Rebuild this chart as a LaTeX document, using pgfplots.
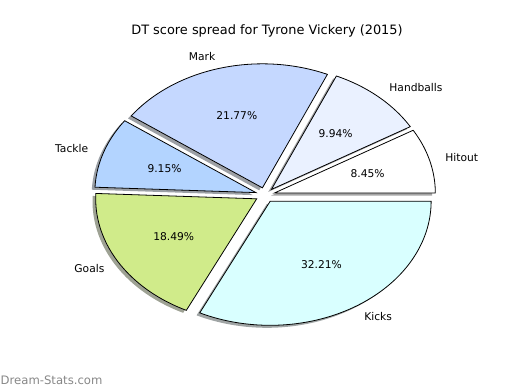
\documentclass[border=0pt]{standalone}
\usepackage{pgfplots}
\pgfplotsset{compat=1.18}
\usepackage{pgfplotstable}
\usepackage{fontspec}
\setmainfont{DejaVu Sans}

\definecolor{c0}{RGB}{255,255,255}
\definecolor{c1}{RGB}{234,241,255}
\definecolor{c2}{RGB}{197,216,255}
\definecolor{c3}{RGB}{179,212,255}
\definecolor{c4}{RGB}{208,235,138}
\definecolor{c5}{RGB}{217,255,255}
\definecolor{wmark}{RGB}{135,135,135}

\pgfplotstableread{
label pct
Hitout 8.45
Handballs 9.94
Mark 21.77
Tackle 9.15
Goals 18.49
Kicks 32.21
}\piedata

\newcommand\CX{265}
\newcommand\CY{195}
\newcommand\RX{161}
\newcommand\RY{124}
\newcommand\EXPL{0.06}
\newcommand\lbl{\fontsize{10.74}{12.9}\selectfont}
\newcommand\ttl{\fontsize{12.95}{15.5}\selectfont}
\newcommand\wmf{\fontsize{11.7}{14}\selectfont}

\xdef\cum{0}
\foreach \i in {0,...,5}{%
  \pgfplotstablegetelem{\i}{pct}\of\piedata
  \edef\pp{\pgfplotsretval}%
  \pgfmathsetmacro\s{\cum*3.6}%
  \pgfmathsetmacro\newcum{\cum+\pp}%
  \pgfmathsetmacro\e{\newcum*3.6}%
  \pgfmathsetmacro\m{(\s+\e)/2}%
  \pgfmathsetmacro\ox{\CX+\EXPL*\RX*cos(\m)}%
  \pgfmathsetmacro\oy{\CY+\EXPL*\RY*sin(\m)}%
  \pgfmathsetmacro\lx{\ox+1.1*\RX*cos(\m)}%
  \pgfmathsetmacro\ly{\oy+1.1*\RY*sin(\m)}%
  \pgfmathsetmacro\px{\ox+0.6*\RX*cos(\m)}%
  \pgfmathsetmacro\py{\oy+0.6*\RY*sin(\m)}%
  \pgfmathparse{cos(\m)>0}%
  \ifdim\pgfmathresult pt>0.5pt \def\anc{west}\else\def\anc{east}\fi
  \expandafter\xdef\csname ws\i\endcsname{\s}%
  \expandafter\xdef\csname we\i\endcsname{\e}%
  \expandafter\xdef\csname ox\i\endcsname{\ox}%
  \expandafter\xdef\csname oy\i\endcsname{\oy}%
  \expandafter\xdef\csname lx\i\endcsname{\lx}%
  \expandafter\xdef\csname ly\i\endcsname{\ly}%
  \expandafter\xdef\csname px\i\endcsname{\px}%
  \expandafter\xdef\csname py\i\endcsname{\py}%
  \expandafter\xdef\csname an\i\endcsname{\anc}%
  \expandafter\xdef\csname wp\i\endcsname{\pp}%
  \pgfplotstablegetelem{\i}{label}\of\piedata
  \expandafter\xdef\csname wl\i\endcsname{\pgfplotsretval}%
  \xdef\cum{\newcum}%
}

\newcommand\drawshadow[1]{%
  \edef\temp{\noexpand\addplot[draw=none, fill=c#1!30!black, fill opacity=0.5,
    domain=\csname ws#1\endcsname:\csname we#1\endcsname, samples=120, variable=\noexpand\t]
    ({\csname ox#1\endcsname-3.2+\RX*cos(\noexpand\t)},{\csname oy#1\endcsname-2.5+\RY*sin(\noexpand\t)})
    -- (\csname ox#1\endcsname-3.2,\csname oy#1\endcsname-2.5) -- cycle;}%
  \temp}
\newcommand\drawwedge[1]{%
  \edef\temp{\noexpand\addplot[draw=black, line width=0.8pt, line join=miter, fill=c#1,
    domain=\csname ws#1\endcsname:\csname we#1\endcsname, samples=120, variable=\noexpand\t]
    ({\csname ox#1\endcsname+\RX*cos(\noexpand\t)},{\csname oy#1\endcsname+\RY*sin(\noexpand\t)})
    -- (\csname ox#1\endcsname,\csname oy#1\endcsname) -- cycle;}%
  \temp}
\newcommand\drawtexts[1]{%
  \edef\temp{\noexpand\node[anchor=\csname an#1\endcsname, inner sep=0pt, font=\noexpand\lbl]
    at (\csname lx#1\endcsname,\csname ly#1\endcsname) {\csname wl#1\endcsname};
    \noexpand\node[anchor=center, inner sep=0pt, font=\noexpand\lbl]
    at (\csname px#1\endcsname,\csname py#1\endcsname) {\csname wp#1\endcsname\noexpand\%};}%
  \temp}

\begin{document}
\begin{tikzpicture}
\begin{axis}[
  width=520bp, height=390bp, scale only axis,
  xmin=0, xmax=520, ymin=0, ymax=390,
  hide axis, clip=false,
]
\addplot[draw=none, forget plot] coordinates {(0,0) (520,390)};
\drawshadow{0}\drawshadow{1}\drawshadow{2}\drawshadow{3}\drawshadow{4}\drawshadow{5}
\drawwedge{0}\drawwedge{1}\drawwedge{2}\drawwedge{3}\drawwedge{4}\drawwedge{5}
\drawtexts{0}\drawtexts{1}\drawtexts{2}\drawtexts{3}\drawtexts{4}\drawtexts{5}
\node[anchor=base, inner sep=0pt, font=\ttl] at (267,355.5) {DT score spread for Tyrone Vickery (2015)};
\node[anchor=base west, inner sep=0pt, font=\wmf, text=wmark] at (0.5,6) {Dream-Stats.com};
\end{axis}
\end{tikzpicture}
\end{document}
